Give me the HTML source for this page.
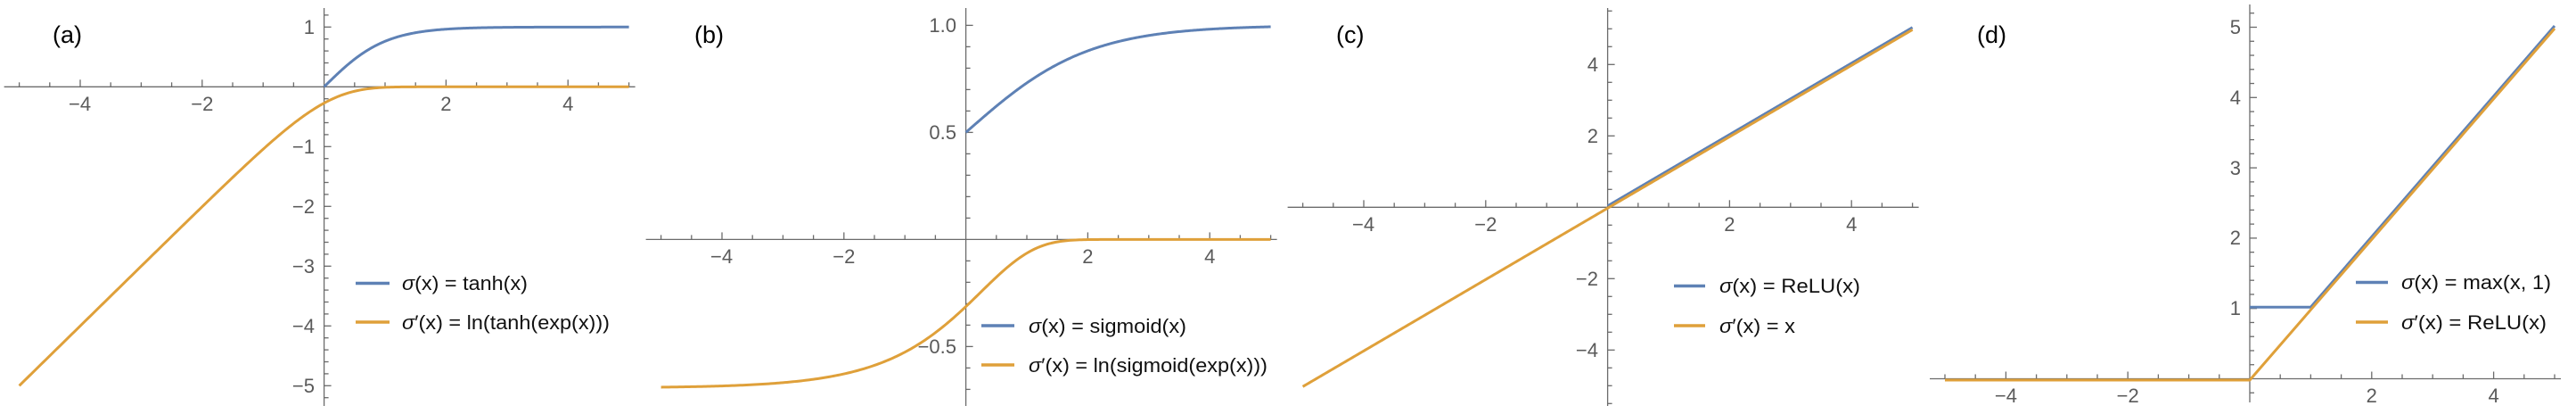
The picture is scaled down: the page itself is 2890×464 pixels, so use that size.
<!DOCTYPE html>
<html><head><meta charset="utf-8"><style>
html,body{margin:0;padding:0;background:#fff;width:2890px;height:464px;overflow:hidden}
svg{display:block}
.tk{font-family:"Liberation Sans",sans-serif;font-size:22px;fill:#5a5a5a}
.lg{font-family:"Liberation Sans",sans-serif;font-size:22px;fill:#111}
.pl{font-family:"Liberation Sans",sans-serif;font-size:27px;fill:#000}
</style></head><body>
<svg id="s" width="2890" height="464" xmlns="http://www.w3.org/2000/svg">
<g id="axes" stroke="#6b6b6b" stroke-width="1.3" fill="none"></g>
<g id="curves" fill="none" stroke-width="3" stroke-linejoin="round" stroke-linecap="butt"></g>
<text class="pl" x="59" y="48">(a)</text>
<text class="pl" x="779" y="48">(b)</text>
<text class="pl" x="1499" y="48">(c)</text>
<text class="pl" x="2218" y="48">(d)</text>
<text class="tk" x="89.6" y="124" text-anchor="middle">−4</text>
<text class="tk" x="226.8" y="124" text-anchor="middle">−2</text>
<text class="tk" x="500.4" y="124" text-anchor="middle">2</text>
<text class="tk" x="637.2" y="124" text-anchor="middle">4</text>
<text class="tk" x="353" y="38" text-anchor="end">1</text>
<text class="tk" x="353" y="172" text-anchor="end">−1</text>
<text class="tk" x="353" y="239" text-anchor="end">−2</text>
<text class="tk" x="353" y="306" text-anchor="end">−3</text>
<text class="tk" x="353" y="373" text-anchor="end">−4</text>
<text class="tk" x="353" y="440" text-anchor="end">−5</text>
<text class="tk" x="809.6" y="295" text-anchor="middle">−4</text>
<text class="tk" x="946.8" y="295" text-anchor="middle">−2</text>
<text class="tk" x="1220.4" y="295" text-anchor="middle">2</text>
<text class="tk" x="1357.2" y="295" text-anchor="middle">4</text>
<text class="tk" x="1073" y="36" text-anchor="end">1.0</text>
<text class="tk" x="1073" y="156" text-anchor="end">0.5</text>
<text class="tk" x="1073" y="396" text-anchor="end">−0.5</text>
<text class="tk" x="1529.6" y="259" text-anchor="middle">−4</text>
<text class="tk" x="1666.8" y="259" text-anchor="middle">−2</text>
<text class="tk" x="1940.4" y="259" text-anchor="middle">2</text>
<text class="tk" x="2077.2" y="259" text-anchor="middle">4</text>
<text class="tk" x="1793" y="80" text-anchor="end">4</text>
<text class="tk" x="1793" y="160" text-anchor="end">2</text>
<text class="tk" x="1793" y="320" text-anchor="end">−2</text>
<text class="tk" x="1793" y="400" text-anchor="end">−4</text>
<text class="tk" x="2250.4" y="451" text-anchor="middle">−4</text>
<text class="tk" x="2387.2" y="451" text-anchor="middle">−2</text>
<text class="tk" x="2660.8" y="451" text-anchor="middle">2</text>
<text class="tk" x="2797.6" y="451" text-anchor="middle">4</text>
<text class="tk" x="2514" y="38" text-anchor="end">5</text>
<text class="tk" x="2514" y="117" text-anchor="end">4</text>
<text class="tk" x="2514" y="196" text-anchor="end">3</text>
<text class="tk" x="2514" y="274" text-anchor="end">2</text>
<text class="tk" x="2514" y="353" text-anchor="end">1</text>
<g stroke-width="3.5">
<line x1="399" y1="317.5" x2="437" y2="317.5" stroke="#5E81B5"/>
<line x1="399" y1="361" x2="437" y2="361" stroke="#DFA03A"/>
<line x1="1101" y1="365" x2="1138" y2="365" stroke="#5E81B5"/>
<line x1="1101" y1="409" x2="1138" y2="409" stroke="#DFA03A"/>
<line x1="1878" y1="320.5" x2="1913" y2="320.5" stroke="#5E81B5"/>
<line x1="1878" y1="365" x2="1913" y2="365" stroke="#DFA03A"/>
<line x1="2643" y1="316.5" x2="2679" y2="316.5" stroke="#5E81B5"/>
<line x1="2643" y1="361" x2="2679" y2="361" stroke="#DFA03A"/>
</g>
<text class="lg" x="451" y="325" textLength="141" lengthAdjust="spacingAndGlyphs"><tspan font-style="italic">σ</tspan>(x) = tanh(x)</text>
<text class="lg" x="451" y="369" textLength="233" lengthAdjust="spacingAndGlyphs"><tspan font-style="italic">σ</tspan>′(x) = ln(tanh(exp(x)))</text>
<text class="lg" x="1154" y="373" textLength="177" lengthAdjust="spacingAndGlyphs"><tspan font-style="italic">σ</tspan>(x) = sigmoid(x)</text>
<text class="lg" x="1154" y="417" textLength="268" lengthAdjust="spacingAndGlyphs"><tspan font-style="italic">σ</tspan>′(x) = ln(sigmoid(exp(x)))</text>
<text class="lg" x="1929" y="328" textLength="158" lengthAdjust="spacingAndGlyphs"><tspan font-style="italic">σ</tspan>(x) = ReLU(x)</text>
<text class="lg" x="1929" y="373" textLength="85" lengthAdjust="spacingAndGlyphs"><tspan font-style="italic">σ</tspan>′(x) = x</text>
<text class="lg" x="2694" y="324" textLength="168" lengthAdjust="spacingAndGlyphs"><tspan font-style="italic">σ</tspan>(x) = max(x, 1)</text>
<text class="lg" x="2694" y="369" textLength="163" lengthAdjust="spacingAndGlyphs"><tspan font-style="italic">σ</tspan>′(x) = ReLU(x)</text>
</svg>
<script>
(function(){
var NS="http://www.w3.org/2000/svg";
var ax=document.getElementById("axes"),cv=document.getElementById("curves");
function el(p,t,a){var e=document.createElementNS(NS,t);for(var k in a)e.setAttribute(k,a[k]);p.appendChild(e);return e;}
var SX=68.4;
var P=[
 {ox:363.6,oy:97.3,sy:67,ymin:-5.5,ymax:1.3,ystep:0.2,ymaj:1,ytop:9,ybot:455},
 {ox:1083.6,oy:268.4,sy:240,ymin:-0.78,ymax:1.1,ystep:0.1,ymaj:0.5,ytop:9,ybot:455},
 {ox:1803.6,oy:232.3,sy:40,ymin:-5.6,ymax:5.8,ystep:0.5,ymaj:2,ytop:9,ybot:455},
 {ox:2524,oy:424.5,sy:78.8,ymin:-0.3,ymax:5.3,ystep:0.2,ymaj:1,ytop:5,ybot:451}
];
P.forEach(function(p){
 el(ax,"line",{x1:p.ox-359,y1:p.oy,x2:p.ox+349,y2:p.oy});
 el(ax,"line",{x1:p.ox,y1:p.ytop,x2:p.ox,y2:p.ybot});
 for(var i=-10;i<=10;i++){if(i==0)continue;var x=p.ox+i*0.5*SX;var maj=(i%4==0);
  el(ax,"line",{x1:x,y1:p.oy,x2:x,y2:p.oy-(maj?8:5)});}
 var n1=Math.ceil(p.ymin/p.ystep-1e-6),n2=Math.floor(p.ymax/p.ystep+1e-6);
 for(var j=n1;j<=n2;j++){if(j==0)continue;var v=j*p.ystep;var y=p.oy-v*p.sy;
  if(y<p.ytop||y>p.ybot)continue;
  var r=v/p.ymaj;var maj=Math.abs(r-Math.round(r))<1e-6;
  el(ax,"line",{x1:p.ox,y1:y,x2:p.ox+(maj?8:5),y2:y});}
});
function curve(p,f,a,b,col,dy){var d="";var N=300;for(var i=0;i<=N;i++){var x=a+(b-a)*i/N;var X=p.ox+x*SX,Y=p.oy-f(x)*p.sy+(dy||0);d+=(i?"L":"M")+X.toFixed(2)+" "+Y.toFixed(2);}
 el(cv,"path",{d:d,stroke:col});}
var B="#5E81B5",O="#DFA03A";
function sig(x){return 1/(1+Math.exp(-x));}
curve(P[0],Math.tanh,0,5,B);
curve(P[0],function(x){return Math.log(Math.tanh(Math.exp(x)));},-5,5,O);
curve(P[1],sig,0,5,B);
curve(P[1],function(x){return Math.log(sig(Math.exp(x)));},-5,5,O);
curve(P[2],function(x){return x;},0,5,B,-1.5);
curve(P[2],function(x){return x;},-5,5,O,1);
curve(P[3],function(x){return Math.max(x,1);},0,5,B,-1.5);
curve(P[3],function(x){return Math.max(x,0);},-5,5,O,1.5);
})();
</script>
</body></html>
